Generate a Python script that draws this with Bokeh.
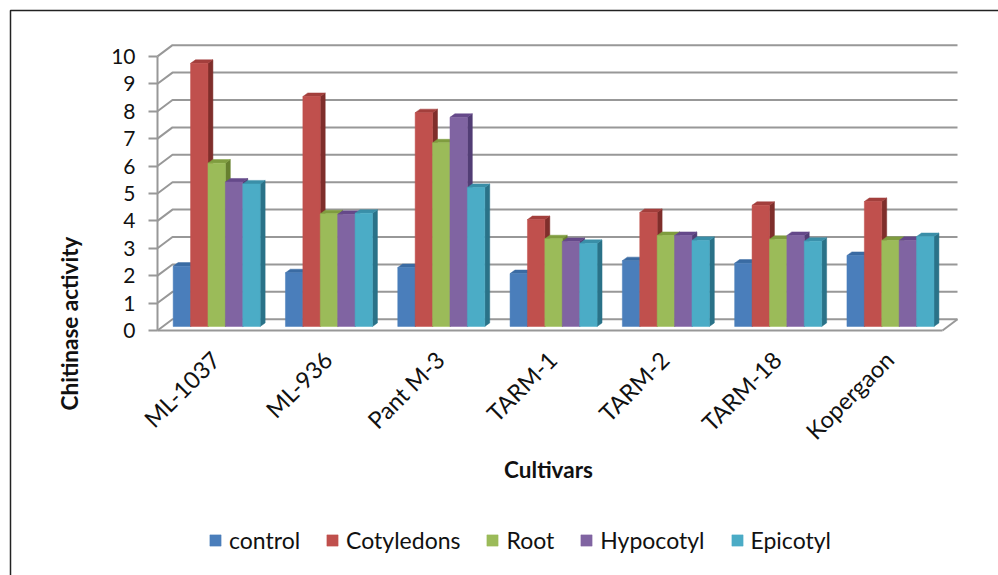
from bokeh.plotting import figure
from bokeh.models import (Range1d, FixedTicker, Legend, LegendItem, Label)
from bokeh.embed import file_html
from bokeh.resources import INLINE
import math

categories = ["ML-1037", "ML-936", "Pant M-3", "TARM-1", "TARM-2", "TARM-18", "Kopergaon"]
control    = [2.2, 1.96, 2.15, 1.93, 2.4, 2.31, 2.59]
cotyledons = [9.6, 8.39, 7.8, 3.9, 4.16, 4.42, 4.56]
root       = [5.96, 4.11, 6.7, 3.2, 3.32, 3.18, 3.14]
hypocotyl  = [5.27, 4.09, 7.63, 3.1, 3.32, 3.32, 3.14]
epicotyl   = [5.2, 4.13, 5.07, 3.03, 3.14, 3.11, 3.28]
y_ticks = list(range(0, 11))

series = [
    ("control", control, "#4A7EBB", "#2F5C8F", "#3A6BA3"),
    ("Cotyledons", cotyledons, "#C0504D", "#7F2E2B", "#A33F3C"),
    ("Root", root, "#9BBB59", "#67802F", "#7F9C3F"),
    ("Hypocotyl", hypocotyl, "#8064A2", "#523D75", "#65498A"),
    ("Epicotyl", epicotyl, "#4BACC6", "#2A7288", "#3A8FA8"),
]

FONT = "Lato"
GRID = "#989898"
W, H = 998, 575
BAR_W = 0.155       # bar width, in category units
BAR_DX = 0.044      # bar depth along x
BAR_DY = 0.13       # bar depth along y
BASE = 0.146        # bars stand slightly behind the front of the floor
WALL_DX = 15 / 112.3
WALL_DY = 0.41
X0, X1 = -0.527, 6.597   # left of the y axis, right end of the back wall
XL, XR = -1.925, 6.962
YB, YT = -8.94, 12.04
LABEL_SHIFT = 0.01       # rotated labels end just left of the group centre

# the frame fills the whole figure; axes are fixed at data locations inside it
p = figure(width=W, height=H, output_backend="svg", toolbar_location=None,
           x_range=Range1d(XL, XR), y_range=Range1d(YB, YT),
           min_border=0, outline_line_color=None,
           background_fill_color="white", border_fill_color="white")
p.grid.visible = False

# the picture's frame: left and top edges only
fx = XL + 10 / W * (XR - XL)
fy = YT - 10 / H * (YT - YB)
p.line([fx, fx, XR], [YB, fy, fy], line_color="#222222", line_width=1.5)

for v in y_ticks:
    p.line([X0, X0 + WALL_DX, X1], [v, v + WALL_DY, v + WALL_DY], line_color=GRID, line_width=2)
p.line([X1 - WALL_DX, X1], [0, WALL_DY], line_color=GRID, line_width=2)

items = []
n = len(series)
for s, (name, vals, col, side, top) in enumerate(series):
    left = [i + (s - n / 2) * BAR_W for i in range(len(vals))]
    right = [l + BAR_W for l in left]
    bottom = [BASE] * len(vals)
    tops = [BASE + v for v in vals]
    p.patches([[r, r + BAR_DX, r + BAR_DX, r] for r in right],
              [[BASE, BASE + BAR_DY, t + BAR_DY, t] for t in tops],
              fill_color=side, line_color=side, line_width=0.5)
    p.patches([[l, l + BAR_DX, r + BAR_DX, r] for l, r in zip(left, right)],
              [[t, t + BAR_DY, t + BAR_DY, t] for t in tops],
              fill_color=top, line_color=top, line_width=0.5)
    front = p.quad(left=left, right=right, bottom=bottom, top=tops,
                   fill_color=col, line_color=col, line_width=0.5)
    items.append(LegendItem(label=name, renderers=[front]))

ya = p.yaxis[0]
ya.fixed_location = X0
ya.ticker = FixedTicker(ticks=y_ticks)
ya.bounds = (0, 10)
ya.axis_line_color = GRID
ya.axis_line_width = 2
ya.major_tick_line_color = GRID
ya.major_tick_line_width = 2
ya.major_tick_out = 9
ya.major_tick_in = 0
ya.minor_tick_line_color = None
ya.major_label_standoff = 13
ya.major_label_text_font = FONT
ya.major_label_text_font_size = "21px"
ya.major_label_text_color = "#111111"

x_ticks = [round(i - LABEL_SHIFT, 3) for i in range(len(categories))]
xa = p.xaxis[0]
xa.fixed_location = 0
xa.ticker = FixedTicker(ticks=x_ticks)
xa.major_label_overrides = dict(zip(x_ticks, categories))
xa.bounds = (X0, X1 - WALL_DX)
xa.axis_line_color = GRID
xa.axis_line_width = 2
xa.major_tick_line_color = None
xa.minor_tick_line_color = None
xa.major_label_orientation = math.pi / 4
xa.major_label_standoff = 19
xa.major_label_text_font = FONT
xa.major_label_text_font_size = "23.5px"
xa.major_label_text_color = "#111111"

p.add_layout(Label(x=69, y=252, x_units="screen", y_units="screen", text="Chitinase activity",
                   angle=math.pi / 2, text_font=FONT, text_font_style="bold", text_font_size="22.5px",
                   text_align="center", text_baseline="middle", text_color="#111111"))
p.add_layout(Label(x=548, y=106, x_units="screen", y_units="screen", text="Cultivars",
                   text_font=FONT, text_font_style="bold", text_font_size="22.5px",
                   text_align="center", text_baseline="middle", text_color="#111111"))

legend = Legend(items=items, orientation="horizontal", location=(208, 21),
                glyph_width=14, glyph_height=14, label_standoff=7, spacing=25, padding=0, margin=0,
                border_line_color=None, background_fill_alpha=0,
                label_text_font=FONT, label_text_font_size="23px", label_text_color="#111111")
p.add_layout(legend, "center")

open("out.html", "w").write(file_html(p, INLINE))
